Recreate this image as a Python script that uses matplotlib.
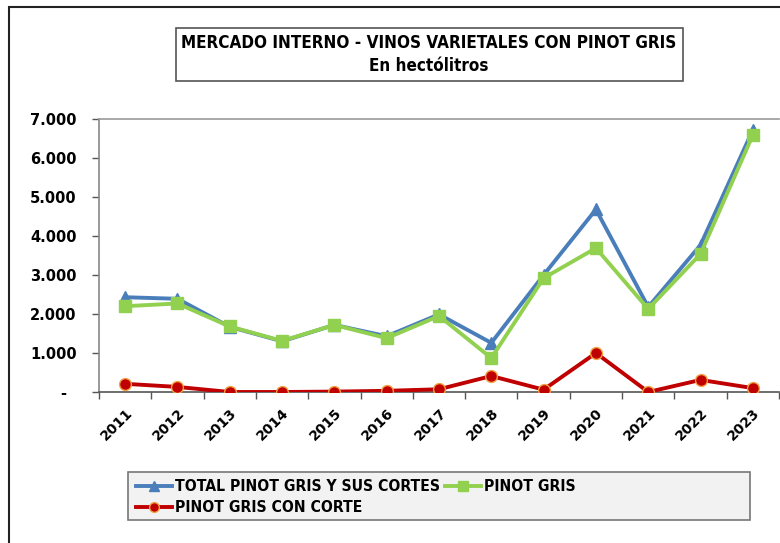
import matplotlib.pyplot as plt
import matplotlib.font_manager as fm
from matplotlib.patches import Rectangle
from matplotlib.ticker import FuncFormatter, FixedLocator

years = ["2011", "2012", "2013", "2014", "2015", "2016", "2017",
         "2018", "2019", "2020", "2021", "2022", "2023"]
total = [2430, 2390, 1670, 1300, 1720, 1430, 1990, 1260, 3000, 4680, 2180, 3770, 6720]
pinot_gris = [2200, 2270, 1680, 1310, 1720, 1380, 1950, 870, 2920, 3690, 2130, 3540, 6590]
con_corte = [210, 130, 0, 0, 10, 30, 70, 410, 60, 1000, 0, 310, 100]
yticks = [0, 1000, 2000, 3000, 4000, 5000, 6000, 7000]


# look for a bold narrow/condensed face (the original uses Arial Narrow)
def narrow_bold():
    best = None
    for f in fm.fontManager.ttflist:
        n = f.name.lower()
        cond = "narrow" in n or "condensed" in n or str(f.stretch) in ("condensed", "semi-condensed", "extra-condensed")
        w = f.weight if isinstance(f.weight, int) else (700 if "bold" in str(f.weight) else 400)
        if cond and w >= 600 and f.style == "normal":
            rank = 0 if "liberation" in n else (1 if "dejavu" in n else 2)
            if best is None or rank < best[0]:
                best = (rank, f.fname)
    if best:
        return fm.FontProperties(fname=best[1])
    return fm.FontProperties(family="Liberation Sans", weight="bold")


narrow = narrow_bold()

fig = plt.figure(figsize=(7.8, 5.43), dpi=100)
W, H = 780, 543

# outer chart border
fig.patches.append(Rectangle((9 / W, -0.01), 1.0, 1 - 7 / H + 0.01, transform=fig.transFigure,
                             fill=False, edgecolor="#222222", linewidth=1.5))

ax = fig.add_axes([99 / W, 1 - 392 / H, 680 / W, 273 / H])
x = list(range(len(years)))

l1, = ax.plot(x, total, color="#4a7ebb", lw=2.8, marker="^", markersize=9,
              markerfacecolor="#4a7ebb", markeredgecolor="#4a7ebb",
              label="TOTAL PINOT GRIS Y SUS CORTES", zorder=3)
l2, = ax.plot(x, pinot_gris, color="#92d050", lw=2.8, marker="s", markersize=8.5,
              markerfacecolor="#92d050", markeredgecolor="#92d050",
              label="PINOT GRIS", zorder=4)
l3, = ax.plot(x, con_corte, color="#c00000", lw=2.8, marker="o", markersize=8.5,
              markerfacecolor="#c00000", markeredgecolor="#f0a040", markeredgewidth=1,
              label="PINOT GRIS CON CORTE", zorder=5)

ax.set_xlim(-0.5, len(years) - 0.5)
ax.set_ylim(0, 7000)
ax.set_yticks(yticks)
ax.yaxis.set_major_formatter(FuncFormatter(lambda v, p: "-  " if v == 0 else f"{int(v):,}".replace(",", ".")))
ax.tick_params(axis="y", length=5, width=1, color="#555555", pad=11, labelsize=10.5)
for t in ax.get_yticklabels():
    t.set_fontweight("bold")

ax.set_xticks(x)
ax.set_xticklabels(years, rotation=45, ha="right", rotation_mode="anchor", fontsize=10, fontweight="bold")
ax.tick_params(axis="x", which="major", length=0, pad=10)
ax.xaxis.set_minor_locator(FixedLocator([i - 0.5 for i in range(len(years) + 1)]))
ax.tick_params(axis="x", which="minor", length=5, width=1, color="#555555")

ax.spines["left"].set_color("#888888")
ax.spines["bottom"].set_color("#555555")
ax.spines["top"].set_color("#999999")
ax.spines["right"].set_visible(False)
for s in ax.spines.values():
    s.set_linewidth(1.2)

# title box
fig.patches.append(Rectangle((176 / W, 1 - 81 / H), 507 / W, 53 / H, transform=fig.transFigure,
                             facecolor="white", edgecolor="#555555", linewidth=1.2))
t1 = fig.text(429 / W, 1 - 43 / H, "MERCADO INTERNO - VINOS VARIETALES CON PINOT GRIS",
              ha="center", va="center", fontproperties=narrow, fontsize=13)
t2 = fig.text(429 / W, 1 - 66 / H, "En hectólitros",
              ha="center", va="center", fontproperties=narrow, fontsize=13)

# fit title size to the original width (~494 px)
r = fig.canvas.get_renderer()
tsize = 13 * 494 / t1.get_window_extent(r).width
t1.set_fontsize(tsize)
t2.set_fontsize(tsize)

# legend box
fig.patches.append(Rectangle((128 / W, 1 - 520 / H), 622 / W, 48 / H, transform=fig.transFigure,
                             facecolor="#f2f2f2", edgecolor="#777777", linewidth=1.2))
probe = fig.text(0, 0, l1.get_label(), fontproperties=narrow, fontsize=12)
lsize = 12 * 265 / probe.get_window_extent(r).width
probe.remove()
lprop = narrow.copy()
lprop.set_size(lsize)
leg = fig.legend([l1, l3, l2], [l1.get_label(), l3.get_label(), l2.get_label()],
                 ncol=2, loc="upper left", bbox_to_anchor=(126 / W, 1 - 469 / H),
                 frameon=False, handlelength=2.3, handletextpad=0.2, columnspacing=0.3,
                 labelspacing=0.4, borderpad=0.15, prop=lprop)
for h in leg.legend_handles:
    h.set_markersize(7)

plt.savefig("out.png", dpi=100)
